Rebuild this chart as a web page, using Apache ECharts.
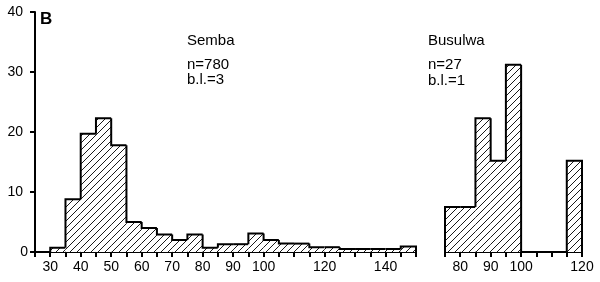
<!DOCTYPE html>
<html><head><meta charset="utf-8">
<script src="https://cdn.jsdelivr.net/npm/echarts@6/dist/echarts.min.js"></script>
<style>html,body{margin:0;padding:0;background:#fff}#c{width:600px;height:282px}</style>
</head><body><div id="c"></div>
<script>
// Semba: bins of width 5 starting at 30
var sembaStarts = [30,35,40,45,50,55,60,65,70,75,80,85,90,95,100,105,110,115,120,125,130,135,140,145];
var sembaValues = [0.7,8.8,19.7,22.3,17.8,5.0,4.0,2.9,2.0,2.9,0.7,1.3,1.3,3.1,2.0,1.4,1.4,0.8,0.8,0.5,0.5,0.5,0.5,0.9];
// Busulwa: bins of width 5 starting at 75
var busStarts = [75,80,85,90,95,100,105,110,115];
var busValues = [7.5,7.5,22.3,15.2,31.2,0,0,0,15.2];
var binWidth = 5;
var yTicks = [0,10,20,30,40];
var sembaLabels = [30,40,50,60,70,80,90,100,120,140];
var busLabels = [80,90,100,120];

var FONT = '"Liberation Sans", Arial, Helvetica, sans-serif';
var chart = echarts.init(document.getElementById('c'), null, {renderer:'canvas'});

// hatch pattern
var s = 7;
var pc = document.createElement('canvas');
pc.width = s; pc.height = s;
var g = pc.getContext('2d');
g.fillStyle = '#fff'; g.fillRect(0,0,s,s);
g.strokeStyle = '#000'; g.lineWidth = 0.9;
g.beginPath();
g.moveTo(0, s); g.lineTo(s, 0);
g.moveTo(-1, 1); g.lineTo(1, -1);
g.moveTo(s-1, s+1); g.lineTo(s+1, s-1);
g.stroke();

function histData(starts, vals){
  return starts.map(function(x,i){ return [x, x+binWidth, vals[i], i>0 ? vals[i-1] : 0, i===starts.length-1 ? 1 : 0]; });
}
function renderHist(params, api){
  var x0 = api.value(0), x1 = api.value(1), h = api.value(2), prev = api.value(3), last = api.value(4);
  var p0 = api.coord([x0, h]);
  var p1 = api.coord([x1, 0]);
  var pPrev = api.coord([x0, prev]);
  var children = [];
  if (h > 0) {
    children.push({type:'rect', shape:{x:p0[0], y:p0[1], width:p1[0]-p0[0], height:p1[1]-p0[1]},
      style:{fill:{image:pc, repeat:'repeat'}}, silent:true});
  }
  var pts = [[pPrev[0], pPrev[1]], [p0[0], p0[1]], [p1[0], p0[1]]];
  if (last) pts.push([p1[0], p1[1]]);
  children.push({type:'polyline', shape:{points:pts}, style:{stroke:'#000', lineWidth:2, fill:null, lineJoin:'miter'}, silent:true});
  return {type:'group', children:children};
}

var labelStyle = {color:'#000', fontFamily:FONT, fontSize:14};
var axisCommon = {
  axisLine:{show:true, lineStyle:{color:'#000', width:2}},
  axisTick:{show:true, length:5, lineStyle:{color:'#000', width:2}},
  splitLine:{show:false}
};

var option = {
  animation:false,
  backgroundColor:'#fff',
  grid:[
    {left:35, top:12, width:381, height:240},
    {left:445, top:12, width:137, height:240}
  ],
  xAxis:[
    Object.assign({}, axisCommon, {gridIndex:0, type:'value', min:25, max:150, interval:5,
      axisLabel:Object.assign({}, labelStyle, {margin:8, showMinLabel:true, showMaxLabel:true,
        formatter:function(v){ return sembaLabels.indexOf(v) >= 0 ? String(v) : ''; }})}),
    Object.assign({}, axisCommon, {gridIndex:1, type:'value', min:75, max:120, interval:5,
      axisLabel:Object.assign({}, labelStyle, {margin:8, showMinLabel:true, showMaxLabel:true,
        formatter:function(v){ return busLabels.indexOf(v) >= 0 ? String(v) : ''; }})})
  ],
  yAxis:[
    Object.assign({}, axisCommon, {gridIndex:0, type:'value', min:0, max:40, interval:10,
      axisLabel:Object.assign({}, labelStyle, {margin:7,
        formatter:function(v){ return yTicks.indexOf(v) < 0 ? '' : (v === 0 ? '0' : '{p|' + v + '}'); },
        rich:{p:{color:'#000', fontFamily:FONT, fontSize:14, padding:[0,5,0,0]}}})}),
    {gridIndex:1, type:'value', min:0, max:40, interval:10, show:false}
  ],
  series:[
    {type:'custom', xAxisIndex:0, yAxisIndex:0, renderItem:renderHist, data:histData(sembaStarts, sembaValues), clip:false, z:5},
    {type:'custom', xAxisIndex:1, yAxisIndex:1, renderItem:renderHist, data:histData(busStarts, busValues), clip:false, z:5}
  ],
  graphic:[
    {type:'text', x:40, y:19.5, style:{text:'B', font:'bold 17px ' + FONT, fill:'#000', verticalAlign:'middle'}},
    {type:'text', x:187, y:41, style:{text:'Semba', font:'15px ' + FONT, fill:'#000', verticalAlign:'middle'}},
    {type:'text', x:187, y:65, style:{text:'n=780', font:'15px ' + FONT, fill:'#000', verticalAlign:'middle'}},
    {type:'text', x:187, y:79.5, style:{text:'b.l.=3', font:'15px ' + FONT, fill:'#000', verticalAlign:'middle'}},
    {type:'text', x:428, y:41, style:{text:'Busulwa', font:'15px ' + FONT, fill:'#000', verticalAlign:'middle'}},
    {type:'text', x:428, y:65, style:{text:'n=27', font:'15px ' + FONT, fill:'#000', verticalAlign:'middle'}},
    {type:'text', x:428, y:80.5, style:{text:'b.l.=1', font:'15px ' + FONT, fill:'#000', verticalAlign:'middle'}}
  ]
};
chart.setOption(option);
</script></body></html>
